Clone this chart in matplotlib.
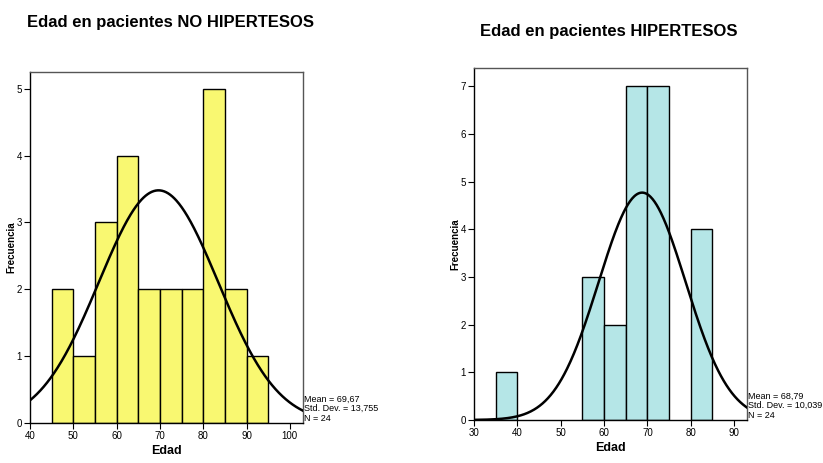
import numpy as np
import matplotlib
matplotlib.use("Agg")
import matplotlib.pyplot as plt
from matplotlib import font_manager

plt.rcParams['font.family'] = ['Liberation Sans', 'DejaVu Sans']

# Data
bins_left = [45, 50, 55, 60, 65, 70, 75, 80, 85, 90]
counts_left = [2, 1, 3, 4, 2, 2, 2, 5, 2, 1]
stats_left = {"mean": 69.67, "sd": 13.755, "n": 24}

bins_right = [35, 55, 60, 65, 70, 80]
counts_right = [1, 3, 2, 7, 7, 4]
stats_right = {"mean": 68.79, "sd": 10.039, "n": 24}

bin_width = 5

names = [f.name for f in font_manager.fontManager.ttflist]
narrow = 'Liberation Sans Narrow' if 'Liberation Sans Narrow' in names else 'Liberation Sans'

fig = plt.figure(figsize=(8.23, 4.63), dpi=100)

def draw(ax, bins, counts, stats, color, xlim, ylim, xticks, yticks):
    ax.bar(bins, counts, width=bin_width, align='edge', color=color,
           edgecolor='black', linewidth=1.0, zorder=2)
    x = np.linspace(xlim[0], xlim[1], 400)
    m, s, n = stats["mean"], stats["sd"], stats["n"]
    y = n * bin_width / (s * np.sqrt(2 * np.pi)) * np.exp(-0.5 * ((x - m) / s) ** 2)
    ax.plot(x, y, color='black', linewidth=1.8, zorder=3)
    ax.set_xlim(*xlim)
    ax.set_ylim(*ylim)
    ax.set_xticks(xticks)
    ax.set_yticks(yticks)
    ax.tick_params(labelsize=7, length=4, width=0.8, direction='out', pad=2)
    for sp in ['left', 'bottom']:
        ax.spines[sp].set_color('black')
        ax.spines[sp].set_linewidth(1.0)
    for sp in ['top', 'right']:
        ax.spines[sp].set_color('#555555')
        ax.spines[sp].set_linewidth(1.0)
    ax.set_xlabel('Edad', fontsize=9, fontweight='bold', labelpad=3)
    mean_s = f"{m:.2f}".replace('.', ',')
    sd_s = f"{s:.3f}".replace('.', ',')
    ax.text(1.005, 0.0, f"Mean = {mean_s}\nStd. Dev. = {sd_s}\nN = {n}",
            transform=ax.transAxes, ha='left', va='bottom', fontsize=6.5,
            family=narrow, linespacing=1.1)
    ax.text(-0.07, 0.5, 'Frecuencia', transform=ax.transAxes, rotation=90,
            ha='center', va='center', fontsize=7, fontweight='bold')

axL = fig.add_axes([0.0365, 0.0864, 0.3315, 0.758])
draw(axL, bins_left, counts_left, stats_left, '#F9F871', (40, 103), (0, 5.25),
     [40, 50, 60, 70, 80, 90, 100], [0, 1, 2, 3, 4, 5])
fig.text(0.033, 0.952, 'Edad en pacientes NO HIPERTESOS', fontsize=12,
         fontweight='bold', ha='left', va='center')

axR = fig.add_axes([0.576, 0.0929, 0.3317, 0.760])
draw(axR, bins_right, counts_right, stats_right, '#B5E6E7', (30, 93), (0, 7.38),
     [30, 40, 50, 60, 70, 80, 90], [0, 1, 2, 3, 4, 5, 6, 7])
fig.text(0.583, 0.931, 'Edad en pacientes HIPERTESOS', fontsize=12,
         fontweight='bold', ha='left', va='center')

fig.savefig('out.png', dpi=100)
